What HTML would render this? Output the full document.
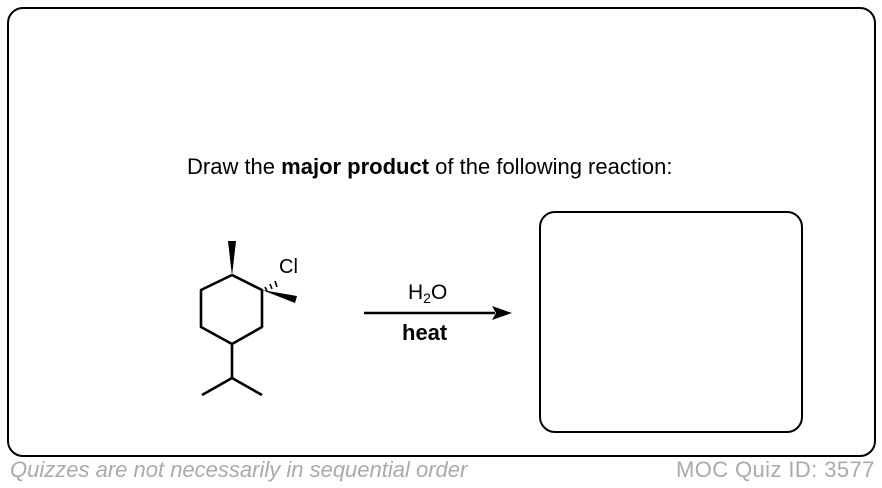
<!DOCTYPE html>
<html><head><style>
body{margin:0;width:882px;height:488px;background:#fff;position:relative;font-family:"Liberation Sans",sans-serif;overflow:hidden}
.outer{position:absolute;left:7px;top:7px;width:865px;height:446px;border:2.5px solid #000;border-radius:16px}
.inner{position:absolute;left:539px;top:211px;width:260px;height:218px;border:2.5px solid #000;border-radius:16px}
.t{position:absolute;white-space:nowrap}
</style></head><body>
<div class="outer"></div>
<div class="inner"></div>
<div class="t" style="left:187px;top:154px;font-size:22px">Draw the <b>major product</b> of the following reaction:</div>
<svg style="position:absolute;left:0;top:0" width="882" height="488">
<g stroke="#000" stroke-width="2.6" fill="none" stroke-linejoin="round">
<polyline points="232,275 262,290 262,327 232,344 201,327 201,290 232,275"/>
<line x1="232" y1="344" x2="232" y2="378"/>
<line x1="232" y1="378" x2="202" y2="395"/>
<line x1="232" y1="378" x2="262" y2="395"/>
<line x1="364" y1="313" x2="495" y2="313"/>
</g>
<polygon points="232,276 228,241 236,241" fill="#000"/>
<polygon points="262,290 297,296 295,303" fill="#000"/>
<g stroke="#000" stroke-width="1.6">
<line x1="265" y1="287" x2="267" y2="291"/>
<line x1="270" y1="284" x2="272" y2="289"/>
<line x1="275" y1="281" x2="277" y2="287"/>
</g>
<polygon points="512,313 492,306 496,313 492,320" fill="#000"/>
</svg>
<div class="t" style="left:279px;top:256px;font-size:20px">Cl</div>
<div class="t" style="left:408px;top:281px;font-size:21px">H<span style="font-size:14px;position:relative;top:4px">2</span>O</div>
<div class="t" style="left:402px;top:320px;font-size:22px;font-weight:bold">heat</div>
<div class="t" style="left:10px;top:457px;font-size:22px;font-style:italic;color:#aaa">Quizzes are not necessarily in sequential order</div>
<div class="t" style="left:676px;top:457px;font-size:22px;color:#aaa;letter-spacing:0.4px">MOC Quiz ID: 3577</div>
</body></html>
